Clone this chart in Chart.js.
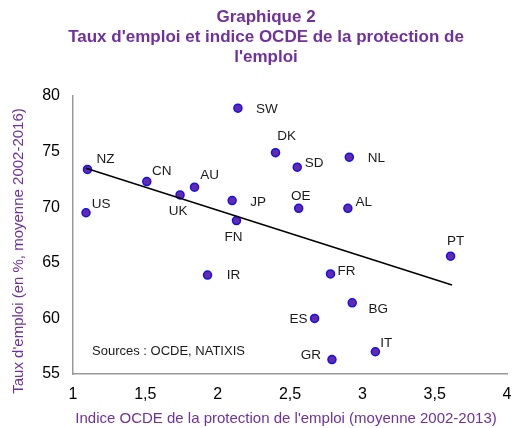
<!DOCTYPE html>
<html>
<head>
<meta charset="utf-8">
<script src="https://cdn.jsdelivr.net/npm/chart.js@4"></script>
<style>
  body { margin: 0; background: #fff; }
  #wrap { width: 514px; height: 428px; }
</style>
</head>
<body>
<div id="wrap"><canvas id="chart" width="514" height="428"></canvas></div>
<script>
  // Data
  const countries = ["NZ", "US", "CN", "UK", "AU", "JP", "FN", "SW", "DK", "SD", "OE", "NL", "AL", "IR", "PT", "FR", "BG", "ES", "GR", "IT"];
  const eplIndex = [1.10, 1.09, 1.51, 1.74, 1.84, 2.10, 2.13, 2.14, 2.40, 2.55, 2.56, 2.91, 2.90, 1.93, 3.61, 2.78, 2.93, 2.67, 2.79, 3.09];
  const employmentRate = [73.4, 69.5, 72.3, 71.1, 71.8, 70.6, 68.8, 78.9, 74.9, 73.6, 69.9, 74.5, 69.9, 63.9, 65.6, 64.0, 61.4, 60.0, 56.3, 57.0];
  const trendX = [1.09, 3.62];
  const trendY = [73.5, 63.0];

  const titleLines = ["Graphique 2", "Taux d'emploi et indice OCDE de la protection de", "l'emploi"];
  const xTitle = "Indice OCDE de la protection de l'emploi (moyenne 2002-2013)";
  const yTitle = "Taux d'emploi (en %, moyenne 2002-2016)";
  const sourceText = "Sources : OCDE, NATIXIS";

  // label placement relative to each point (pixels)
  const labelOffsets = [
    [18, -10], [15, -8], [15, -10], [-2, 16], [15, -12], [26, 2], [-3, 17], [29, 1], [11, -16], [17, -4],
    [2, -12], [27, 1], [16, -6], [26, 0], [5, -15], [16, -3], [26, 6], [-16, 1], [-21, -4], [11, -8]
  ];

  const purple = "#70309F";
  const font = "'Liberation Sans', Arial, sans-serif";

  const points = eplIndex.map((x, i) => ({ x: x, y: employmentRate[i] }));
  const trend = trendX.map((x, i) => ({ x: x, y: trendY[i] }));

  // Labels, titles and source note
  const textPlugin = {
    id: "texts",
    afterDatasetsDraw(chart) {
      const ctx = chart.ctx;
      ctx.save();
      ctx.textAlign = "center";
      ctx.textBaseline = "middle";

      // country labels
      ctx.fillStyle = "#1a1a1a";
      ctx.font = "13.5px " + font;
      const meta = chart.getDatasetMeta(1);
      meta.data.forEach((pt, i) => {
        const off = labelOffsets[i];
        ctx.fillText(countries[i], pt.x + off[0], pt.y + off[1]);
      });

      // title
      ctx.fillStyle = purple;
      ctx.font = "bold 17px " + font;
      titleLines.forEach((line, i) => ctx.fillText(line, 266, 17 + i * 20));

      // axis titles
      ctx.font = "15px " + font;
      ctx.fillText(xTitle, 286, 419);
      ctx.save();
      ctx.translate(19, 251);
      ctx.rotate(-Math.PI / 2);
      ctx.fillText(yTitle, 0, 0);
      ctx.restore();

      // sources
      ctx.fillStyle = "#1a1a1a";
      ctx.font = "13px " + font;
      ctx.textAlign = "left";
      ctx.fillText(sourceText, 92, 351);
      ctx.restore();
    }
  };

  new Chart(document.getElementById("chart"), {
    type: "scatter",
    data: {
      datasets: [
        {
          type: "line",
          data: trend,
          borderColor: "#000",
          borderWidth: 1.5,
          pointRadius: 0,
          fill: false
        },
        {
          data: points,
          backgroundColor: "#6629A8",
          borderColor: "#1010FF",
          borderWidth: 1.5,
          pointRadius: 4
        }
      ]
    },
    options: {
      responsive: false,
      animation: false,
      layout: { padding: { top: 96, right: 7, left: 0, bottom: 0 } },
      plugins: {
        legend: { display: false },
        tooltip: { enabled: false }
      },
      scales: {
        x: {
          type: "linear",
          min: 1,
          max: 4,
          ticks: {
            stepSize: 0.5,
            color: "#000",
            padding: 7,
            font: { family: font, size: 16 },
            callback: v => String(v).replace(".", ",")
          },
          grid: { display: false, drawTicks: true, tickLength: 4, tickColor: "#999" },
          border: { color: "#999", width: 1.5 },
          afterFit: s => { s.height = 54; s.paddingRight = 0; s.paddingLeft = 0; }
        },
        y: {
          min: 55,
          max: 80,
          ticks: {
            stepSize: 5,
            color: "#000",
            padding: 8,
            font: { family: font, size: 16 }
          },
          grid: { display: false, drawTicks: true, tickLength: 5, tickColor: "#999" },
          border: { color: "#999", width: 1.5 },
          afterFit: s => { s.width = 73; }
        }
      }
    },
    plugins: [textPlugin]
  });
</script>
</body>
</html>
